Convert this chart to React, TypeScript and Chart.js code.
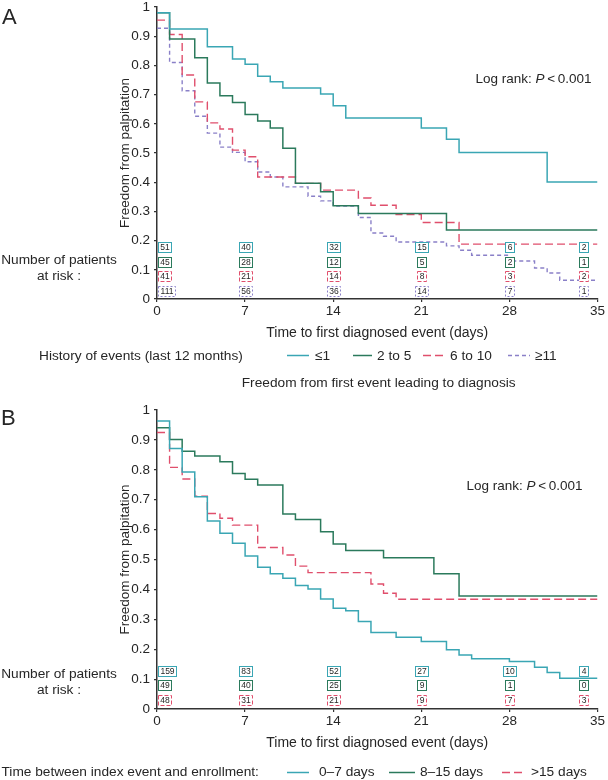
import React, { useEffect, useRef } from 'react';
import { Chart, registerables } from 'chart.js';

Chart.register(...registerables);

// ---------------- DATA ----------------
const xTickDays = [0, 7, 14, 21, 28, 35];
const yTickValues = [0, 0.1, 0.2, 0.3, 0.4, 0.5, 0.6, 0.7, 0.8, 0.9, 1];
const riskDays = [0, 7, 14, 21, 28, 35];

// Panel A: history of events (last 12 months)
const groupLabelsA = ['≤1', '2 to 5', '6 to 10', '≥11'];
const a1Days = [0, 1, 4, 6, 7, 8, 9, 10, 13, 14, 15, 21, 23, 24, 31, 35];
const a1Surv = [0.98, 0.925, 0.864, 0.822, 0.804, 0.763, 0.744, 0.723, 0.702, 0.662, 0.62, 0.586, 0.547, 0.502, 0.401, 0.401];
const a2Days = [0, 1, 3, 4, 5, 6, 7, 8, 9, 10, 11, 13, 14, 16, 23, 35];
const a2Surv = [0.98, 0.89, 0.826, 0.74, 0.696, 0.673, 0.632, 0.61, 0.586, 0.516, 0.396, 0.367, 0.319, 0.293, 0.236, 0.236];
const a3Days = [0, 1, 2, 3, 4, 5, 6, 7, 8, 11, 13, 16, 17, 19, 21, 24, 35];
const a3Surv = [0.955, 0.906, 0.767, 0.675, 0.603, 0.582, 0.51, 0.487, 0.418, 0.396, 0.373, 0.346, 0.321, 0.289, 0.262, 0.188, 0.188];
const a4Days = [0, 1, 2, 3, 4, 5, 6, 7, 8, 9, 10, 12, 13, 14, 16, 17, 18, 19, 23, 24, 25, 28, 30, 31, 32, 35];
const a4Surv = [0.927, 0.81, 0.713, 0.626, 0.568, 0.52, 0.502, 0.47, 0.435, 0.418, 0.384, 0.352, 0.336, 0.318, 0.279, 0.226, 0.215, 0.195, 0.182, 0.167, 0.15, 0.13, 0.106, 0.089, 0.064, 0.064];
const a1Risk = [51, 40, 32, 15, 6, 2];
const a2Risk = [45, 28, 12, 5, 2, 1];
const a3Risk = [41, 21, 14, 8, 3, 2];
const a4Risk = [111, 56, 36, 14, 7, 1];

// Panel B: time between index event and enrollment
const groupLabelsB = ['0–7 days', '8–15 days', '>15 days'];
const b1Days = [0, 1, 2, 3, 4, 5, 6, 7, 8, 9, 10, 11, 12, 13, 14, 15, 16, 17, 19, 21, 23, 24, 25, 28, 30, 31, 32, 35];
const b1Surv = [0.963, 0.871, 0.793, 0.71, 0.629, 0.588, 0.554, 0.512, 0.474, 0.452, 0.437, 0.413, 0.401, 0.368, 0.337, 0.329, 0.293, 0.256, 0.24, 0.226, 0.198, 0.181, 0.168, 0.159, 0.14, 0.122, 0.103, 0.103];
const b2Days = [0, 1, 2, 3, 5, 6, 7, 8, 10, 11, 13, 14, 15, 18, 22, 24, 35];
const b2Surv = [0.941, 0.901, 0.862, 0.846, 0.827, 0.788, 0.768, 0.749, 0.652, 0.634, 0.593, 0.552, 0.53, 0.506, 0.452, 0.378, 0.378];
const b3Days = [0, 1, 2, 3, 4, 5, 6, 8, 10, 11, 12, 17, 18, 19, 35];
const b3Surv = [0.925, 0.808, 0.769, 0.712, 0.654, 0.638, 0.615, 0.54, 0.515, 0.478, 0.456, 0.418, 0.387, 0.367, 0.367];
const b1Risk = [159, 83, 52, 27, 10, 4];
const b2Risk = [49, 40, 25, 9, 1, 0];
const b3Risk = [48, 31, 21, 9, 7, 3];

// ---------------- STYLE ----------------
const FF = '"Liberation Sans", Arial, Helvetica, sans-serif';
const INK = '#262626';
const TEAL = '#3aa6b4';
const GREEN = '#2b7a5c';
const RED = '#e04f6c';
const PURPLE = '#8a80c8';
const TXT = 13.7;

type Series = {
  label: string; days: number[]; surv: number[]; risk: number[];
  color: string; dash: number[]; width: number; boxDash: number[]; riskY: number;
  legLine: [number, number]; legText: number;
};

type Panel = {
  top: number; height: number; padTop: number; padBottom: number;
  letter: string; letterX: number; letterBase: number;
  riskBase: [number, number];
  logX: number; logBase: number;
  legendTitle: string; legendTitleX: number; legendBase: number; legendLineY: number;
  heading?: string; headingX?: number; headingBase?: number;
  series: Series[];
};

const panelA: Panel = {
  top: -20, height: 388, padTop: 27, padBottom: 26,
  letter: 'A', letterX: 2, letterBase: 24,
  riskBase: [263.5, 280],
  logX: 475.5, logBase: 83,
  legendTitle: 'History of events (last 12 months)', legendTitleX: 39, legendBase: 359.5, legendLineY: 355.5,
  series: [
    { label: groupLabelsA[0], days: a1Days, surv: a1Surv, risk: a1Risk, color: TEAL, dash: [], width: 1.5, boxDash: [], riskY: 0.178, legLine: [287, 309], legText: 315 },
    { label: groupLabelsA[1], days: a2Days, surv: a2Surv, risk: a2Risk, color: GREEN, dash: [], width: 1.5, boxDash: [], riskY: 0.127, legLine: [353, 372], legText: 377 },
    { label: groupLabelsA[2], days: a3Days, surv: a3Surv, risk: a3Risk, color: RED, dash: [8, 4], width: 1.4, boxDash: [4, 2], riskY: 0.078, legLine: [423, 445], legText: 450 },
    { label: groupLabelsA[3], days: a4Days, surv: a4Surv, risk: a4Risk, color: PURPLE, dash: [4, 3], width: 1.4, boxDash: [2, 2], riskY: 0.027, legLine: [508, 530], legText: 535 },
  ],
};

const panelB: Panel = {
  top: 368, height: 412, padTop: 42, padBottom: 28,
  letter: 'B', letterX: 1, letterBase: 425,
  riskBase: [677.5, 694],
  logX: 466.5, logBase: 489.5,
  legendTitle: 'Time between index event and enrollment:', legendTitleX: 1.5, legendBase: 776, legendLineY: 772.5,
  heading: 'Freedom from first event leading to diagnosis', headingX: 378.7, headingBase: 387,
  series: [
    { label: groupLabelsB[0], days: b1Days, surv: b1Surv, risk: b1Risk, color: TEAL, dash: [], width: 1.5, boxDash: [], riskY: 0.128, legLine: [287, 309], legText: 319 },
    { label: groupLabelsB[1], days: b2Days, surv: b2Surv, risk: b2Risk, color: GREEN, dash: [], width: 1.5, boxDash: [], riskY: 0.079, legLine: [389, 415], legText: 420 },
    { label: groupLabelsB[2], days: b3Days, surv: b3Surv, risk: b3Risk, color: RED, dash: [8, 4], width: 1.4, boxDash: [4, 2], riskY: 0.029, legLine: [502, 525], legText: 531 },
  ],
};

function drawBox(ctx: CanvasRenderingContext2D, text: string, x: number, cy: number, align: string, color: string, dash: number[]) {
  ctx.font = `8.5px ${FF}`;
  const w = Math.round(ctx.measureText(text).width + 4);
  const h = 10;
  let left = align === 'left' ? x : align === 'right' ? x - w : x - w / 2;
  left = Math.round(left);
  const top = Math.round(cy - h / 2);
  ctx.fillStyle = '#ffffff';
  ctx.fillRect(left, top, w, h);
  ctx.strokeStyle = color;
  ctx.lineWidth = 1;
  ctx.setLineDash(dash);
  ctx.strokeRect(left + 0.5, top + 0.5, w, h);
  ctx.setLineDash([]);
  ctx.fillStyle = INK;
  ctx.textAlign = 'center';
  ctx.textBaseline = 'middle';
  ctx.fillText(text, left + w / 2 + 0.5, top + h / 2 + 1);
}

function makeOverlay(p: Panel) {
  return {
    id: 'overlay' + p.letter,
    afterDraw(chart: any) {
      const ctx: CanvasRenderingContext2D = chart.ctx;
      const xs = chart.scales.x;
      const ys = chart.scales.y;
      const o = p.top;
      ctx.save();
      // panel letter
      ctx.fillStyle = INK;
      ctx.textAlign = 'left';
      ctx.textBaseline = 'alphabetic';
      ctx.font = `22px ${FF}`;
      ctx.fillText(p.letter, p.letterX, p.letterBase - o);
      // heading
      if (p.heading) {
        ctx.font = `${TXT}px ${FF}`;
        ctx.textAlign = 'center';
        ctx.fillText(p.heading, p.headingX!, p.headingBase! - o);
      }
      // number at risk label
      ctx.font = `${TXT}px ${FF}`;
      ctx.textAlign = 'center';
      ctx.fillText('Number of patients', 59, p.riskBase[0] - o);
      ctx.fillText('at risk :', 59, p.riskBase[1] - o);
      // log rank
      ctx.textAlign = 'left';
      let x = p.logX;
      const parts: [string, boolean][] = [['Log rank: ', false], ['P', true], ['\u2009<\u2009', false], ['0.001', false]];
      for (const [t, it] of parts) {
        ctx.font = `${it ? 'italic ' : ''}13.5px ${FF}`;
        ctx.fillText(t, x, p.logBase - o);
        x += ctx.measureText(t).width;
      }
      // risk boxes
      const n = riskDays.length;
      p.series.forEach((s) => {
        const cy = ys.getPixelForValue(s.riskY);
        riskDays.forEach((d, i) => {
          const px = xs.getPixelForValue(d);
          const align = i === 0 ? 'left' : i === n - 1 ? 'right' : 'center';
          const bx = i === 0 ? px + 1 : i === n - 1 ? px - 9 : px;
          drawBox(ctx, String(s.risk[i]), bx, cy, align, s.color, s.boxDash);
        });
      });
      // legend
      ctx.font = `${TXT}px ${FF}`;
      ctx.fillStyle = INK;
      ctx.textAlign = 'left';
      ctx.textBaseline = 'alphabetic';
      ctx.fillText(p.legendTitle, p.legendTitleX, p.legendBase - o);
      p.series.forEach((s) => {
        ctx.strokeStyle = s.color;
        ctx.lineWidth = s.width;
        ctx.setLineDash(s.dash);
        ctx.beginPath();
        ctx.moveTo(s.legLine[0], p.legendLineY - o);
        ctx.lineTo(s.legLine[1], p.legendLineY - o);
        ctx.stroke();
        ctx.setLineDash([]);
        ctx.fillStyle = INK;
        ctx.fillText(s.label, s.legText, p.legendBase - o);
      });
      ctx.restore();
    },
  };
}

function KMPanel({ p }: { p: Panel }) {
  const ref = useRef<HTMLCanvasElement>(null);
  useEffect(() => {
    const canvas = ref.current!;
    const chart = new Chart(canvas, {
      type: 'line',
      data: {
        datasets: p.series.map((s) => ({
          label: s.label,
          data: s.days.map((d, i) => ({ x: d, y: s.surv[i] })),
          borderColor: s.color,
          backgroundColor: s.color,
          borderWidth: s.width,
          borderDash: s.dash,
          stepped: 'before' as const,
          pointRadius: 0,
          fill: false,
        })),
      },
      options: {
        animation: false,
        responsive: false,
        maintainAspectRatio: false,
        devicePixelRatio: 1,
        layout: { padding: { left: 117, right: 10, top: p.padTop, bottom: p.padBottom } },
        plugins: { legend: { display: false }, tooltip: { enabled: false }, title: { display: false } },
        scales: {
          x: {
            type: 'linear',
            min: 0,
            max: 35,
            afterFit: (s: any) => { s.height = 43; },
            afterBuildTicks: (s: any) => { s.ticks = xTickDays.map((v) => ({ value: v })); },
            ticks: { color: INK, font: { family: FF, size: 13.5, lineHeight: 1 }, padding: 3, maxRotation: 0, autoSkip: false },
            grid: { display: true, drawOnChartArea: false, drawTicks: true, tickLength: 3, color: '#333', lineWidth: 1.2 },
            border: { display: true, color: '#333', width: 1.5 },
            title: { display: true, text: 'Time to first diagnosed event (days)', color: INK, font: { family: FF, size: 14 }, padding: 0 },
          },
          y: {
            type: 'linear',
            min: 0,
            max: 1,
            afterFit: (s: any) => { s.width = 40; },
            afterBuildTicks: (s: any) => { s.ticks = yTickValues.map((v) => ({ value: v })); },
            ticks: {
              color: INK,
              font: { family: FF, size: 13.5, lineHeight: 1 },
              padding: 4,
              callback: (v: any) => {
                const n = Number(v);
                if (n === 0) return '0';
                if (n === 1) return '1';
                return n.toFixed(1);
              },
            },
            grid: { display: true, drawOnChartArea: false, drawTicks: true, tickLength: 3, color: '#333', lineWidth: 1.2 },
            border: { display: true, color: '#333', width: 1.5 },
            title: { display: true, text: 'Freedom from palpitation', color: INK, font: { family: FF, size: 13.5 }, padding: 0 },
          },
        },
      },
      plugins: [makeOverlay(p)],
    });
    return () => chart.destroy();
  }, [p]);
  return (
    <canvas
      ref={ref}
      width={608}
      height={p.height}
      style={{ position: 'absolute', left: 0, top: p.top, width: 608, height: p.height, display: 'block' }}
    />
  );
}

export default function App() {
  return (
    <div style={{ position: 'absolute', left: 0, top: 0, width: 608, height: 780, background: '#ffffff', overflow: 'hidden' }}>
      <KMPanel p={panelA} />
      <KMPanel p={panelB} />
    </div>
  );
}
